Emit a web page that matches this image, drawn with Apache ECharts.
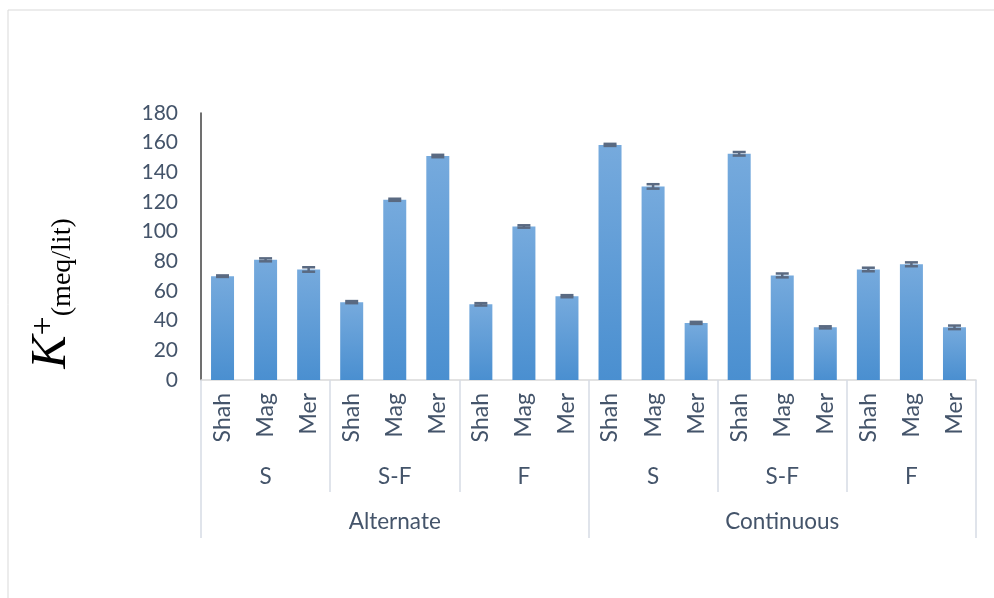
<!DOCTYPE html>
<html>
<head>
<meta charset="utf-8">
<script src="https://cdn.jsdelivr.net/npm/echarts@6/dist/echarts.min.js"></script>
<style>
  html, body { margin: 0; padding: 0; background: #fff; }
  #chart { width: 994px; height: 598px; }
</style>
</head>
<body>
<div id="chart"></div>
<script>
// K+ concentration by irrigation regime / system / cultivar
const cultivars = ["Shah", "Mag", "Mer", "Shah", "Mag", "Mer", "Shah", "Mag", "Mer",
  "Shah", "Mag", "Mer", "Shah", "Mag", "Mer", "Shah", "Mag", "Mer"];
const systems = ["S", "S-F", "F", "S", "S-F", "F"];
const regimes = ["Alternate", "Continuous"];
const kValues = [70, 81, 74.5, 52.5, 121.5, 151, 51, 103.5, 56.5,
  158.5, 130.5, 38.5, 152.5, 70.5, 35.5, 74.5, 78, 35.5];
const kErrors = [0.5, 1, 1.5, 0.7, 0.7, 0.8, 0.8, 0.8, 0.7,
  0.7, 1.5, 0.7, 1.2, 1.3, 0.7, 1.2, 1.3, 1.2];
const yTicks = { min: 0, max: 180, interval: 20 };

const textColor = "#44546a";
const sepColor = "#d6dce5";
const fontFamily = "Lato, 'Open Sans', sans-serif";

const chart = echarts.init(document.getElementById("chart"));

const option = {
  backgroundColor: "#fff",
  animation: false,
  graphic: [
    {
      type: "rect",
      silent: true,
      shape: { x: 8, y: 10, width: 1000, height: 600 },
      style: { fill: "none", stroke: "#d9d9d9", lineWidth: 1 },
    },
  ],
  grid: { left: 201, right: 18, top: 113, bottom: 218 },
  xAxis: [
    {
      type: "category",
      position: "bottom",
      data: cultivars,
      axisLine: { lineStyle: { color: "#d9d9d9", width: 1.5 } },
      axisTick: { show: false },
      axisLabel: {
        interval: 0,
        rotate: 90,
        margin: 13,
        color: textColor,
        fontFamily: fontFamily,
        fontSize: 23,
      },
    },
    {
      type: "category",
      position: "bottom",
      data: systems,
      axisLine: { show: false },
      axisTick: {
        show: true,
        interval: 0,
        length: 112,
        lineStyle: { color: sepColor, width: 1.5 },
      },
      axisLabel: {
        interval: 0,
        margin: 85,
        color: textColor,
        fontFamily: fontFamily,
        fontSize: 22.5,
      },
    },
    {
      type: "category",
      position: "bottom",
      data: regimes,
      axisLine: { show: false },
      axisTick: {
        show: true,
        interval: 0,
        length: 158,
        lineStyle: { color: sepColor, width: 1.5 },
      },
      axisLabel: {
        interval: 0,
        margin: 130,
        color: textColor,
        fontFamily: fontFamily,
        fontSize: 22.5,
      },
    },
  ],
  yAxis: {
    type: "value",
    min: yTicks.min,
    max: yTicks.max,
    interval: yTicks.interval,
    name: "{k|K}{sup|+}{sub|(meq/lit)}",
    nameLocation: "middle",
    nameRotate: 90,
    nameGap: 124,
    nameTextStyle: {
      padding: [0, 94, 0, 0],
      rich: {
        k: {
          fontFamily: "'Liberation Serif', serif",
          fontStyle: "italic",
          fontSize: 50,
          color: "#000",
        },
        sup: {
          fontFamily: "'Liberation Serif', serif",
          fontSize: 34,
          verticalAlign: "top",
          color: "#000",
        },
        sub: {
          fontFamily: "'Liberation Serif', serif",
          fontSize: 28,
          verticalAlign: "bottom",
          color: "#000",
        },
      },
    },
    splitLine: { show: false },
    axisTick: { show: false },
    axisLine: { show: true, lineStyle: { color: "#404040", width: 1.5 } },
    axisLabel: {
      margin: 23,
      color: textColor,
      fontFamily: fontFamily,
      fontSize: 21,
    },
  },
  series: [
    {
      name: "K+",
      type: "bar",
      xAxisIndex: 0,
      barWidth: 23,
      data: kValues,
      itemStyle: {
        color: new echarts.graphic.LinearGradient(0, 0, 0, 1, [
          { offset: 0, color: "#76aadd" },
          { offset: 1, color: "#4a8fd0" },
        ]),
      },
    },
    {
      name: "error",
      type: "custom",
      xAxisIndex: 0,
      z: 5,
      data: kValues.map((v, i) => [i, v - kErrors[i], v + kErrors[i]]),
      renderItem: function (params, api) {
        const lo = api.coord([api.value(0), api.value(1)]);
        const hi = api.coord([api.value(0), api.value(2)]);
        const half = 6.5;
        const style = { stroke: "#5a6a82", lineWidth: 2.5 };
        return {
          type: "group",
          children: [
            { type: "line", shape: { x1: lo[0], y1: lo[1], x2: hi[0], y2: hi[1] }, style: style },
            { type: "line", shape: { x1: lo[0] - half, y1: lo[1], x2: lo[0] + half, y2: lo[1] }, style: style },
            { type: "line", shape: { x1: hi[0] - half, y1: hi[1], x2: hi[0] + half, y2: hi[1] }, style: style },
          ],
        };
      },
    },
  ],
};

chart.setOption(option);
</script>
</body>
</html>
